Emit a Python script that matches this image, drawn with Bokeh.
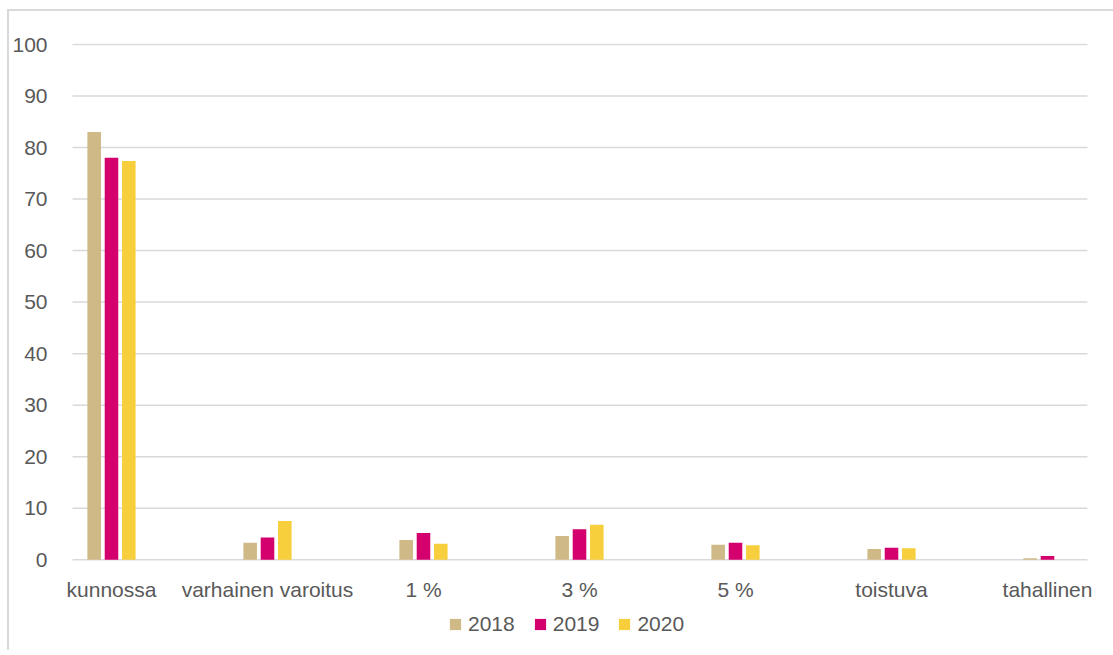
from bokeh.plotting import figure
from bokeh.models import Range1d, FixedTicker, Legend, LegendItem, ColumnDataSource
from bokeh.core.properties import value
from bokeh.embed import file_html
from bokeh.resources import INLINE

categories = ["kunnossa", "varhainen varoitus", "1 %", "3 %", "5 %", "toistuva", "tahallinen"]
years = ["2018", "2019", "2020"]
v2018 = [83.0, 3.3, 3.8, 4.6, 2.9, 2.1, 0.3]
v2019 = [78.0, 4.3, 5.2, 5.9, 3.3, 2.3, 0.7]
v2020 = [77.4, 7.5, 3.1, 6.8, 2.8, 2.2, 0.0]
y_ticks = [0, 10, 20, 30, 40, 50, 60, 70, 80, 90, 100]

colors = ["#CFB987", "#D4006E", "#F7CE3C"]
series = [v2018, v2019, v2020]
offsets = [-0.111, 0.0, 0.111]

FONT = "Liberation Sans"
TXT = "#595959"

p = figure(frame_width=1047, frame_height=603,
           min_border_left=49, min_border_right=8, min_border_top=32, min_border_bottom=4,
           x_range=Range1d(-0.3397, 6.3718), y_range=Range1d(-16.85, 100.2),
           output_backend="svg", toolbar_location=None)
p.styles = {"border-left": "2px solid #d9d9d9", "border-top": "2px solid #d9d9d9",
            "margin-left": "7px", "margin-top": "9px"}

# horizontal gridlines spanning the plot area only
n = len(categories)
p.segment(x0=[-0.25] * len(y_ticks), x1=[n - 0.744] * len(y_ticks), y0=y_ticks, y1=y_ticks,
          line_color="#d9d9d9", line_width=1.5)

items = []
for yr, vals, col, off in zip(years, series, colors, offsets):
    xs = [i + off for i in range(n)]
    r = p.vbar(x=xs, top=vals, width=0.087, bottom=0, fill_color=col, line_color=None)
    items.append(LegendItem(label=yr, renderers=[r]))

# category labels below the zero line
cat_src = ColumnDataSource(dict(x=list(range(n)), y=[-5.8] * n, t=categories))
p.text(x="x", y="y", text="t", source=cat_src, text_align="center", text_baseline="middle",
       text_font=value(FONT), text_font_size=value("21px"), text_color=TXT)

p.outline_line_color = None
p.background_fill_color = "white"
p.border_fill_color = "white"
p.xgrid.grid_line_color = None
p.ygrid.grid_line_color = None

p.yaxis.ticker = FixedTicker(ticks=y_ticks)
p.yaxis.axis_line_color = None
p.yaxis.major_tick_line_color = None
p.yaxis.minor_tick_line_color = None
p.yaxis.major_label_standoff = 5
p.yaxis.major_label_text_font = FONT
p.yaxis.major_label_text_font_size = "21px"
p.yaxis.major_label_text_color = TXT

p.xaxis.visible = False

legend = Legend(items=items, orientation="horizontal", location=(390, 10),
                glyph_width=14, glyph_height=14, label_standoff=6, spacing=18,
                label_text_font=FONT, label_text_font_size="21px", label_text_color=TXT,
                border_line_color=None, background_fill_alpha=0, padding=2, margin=0)
p.add_layout(legend, "center")

open("out.html", "w").write(file_html(p, INLINE))
